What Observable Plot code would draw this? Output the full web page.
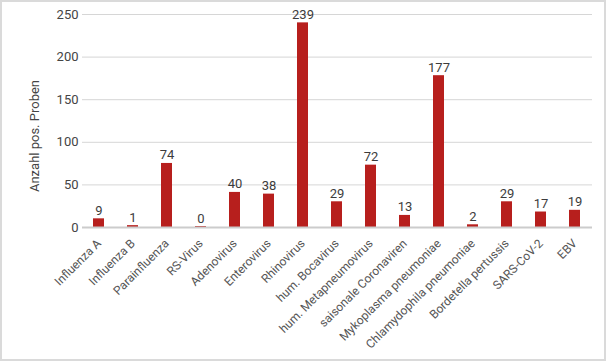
<!DOCTYPE html>
<html><head><meta charset="utf-8">
<script src="https://cdn.jsdelivr.net/npm/d3@7"></script>
<script src="https://cdn.jsdelivr.net/npm/@observablehq/plot@0.6"></script>
<style>
body{margin:0;background:#fff;font-family:Roboto,Arial,sans-serif;}
#wrap{position:relative;width:606px;height:361px;}
#border{position:absolute;left:0;top:0;width:606px;height:361px;box-sizing:border-box;border:2px solid #dadada;pointer-events:none;}
#ytitle{position:absolute;left:34px;top:136px;transform:translate(-50%,-50%) rotate(-90deg);white-space:nowrap;font-size:13px;color:#444;font-family:Roboto,Arial,sans-serif;line-height:1;}
</style></head>
<body><div id="wrap"><div id="border"></div><div id="ytitle"></div></div>
<script>
const categories = ["Influenza A","Influenza B","Parainfluenza","RS-Virus","Adenovirus","Enterovirus","Rhinovirus","hum. Bocavirus","hum. Metapneumovirus","saisonale Coronaviren","Mykoplasma pneumoniae","Chlamydophila pneumoniae","Bordetella pertussis","SARS-CoV-2","EBV"];
const values = [9,1,74,0,40,38,239,29,72,13,177,2,29,17,19];
const yTicks = [0,50,100,150,200,250];
const yTitle = "Anzahl pos. Proben";

const data = categories.map((c,i)=>({cat:c, v:values[i]}));
document.getElementById("ytitle").textContent = yTitle;

const chart = Plot.plot({
  width: 606, height: 361,
  marginLeft: 82, marginRight: 14, marginTop: 14, marginBottom: 134,
  style: {fontFamily: "Roboto, Arial, sans-serif", background: "transparent"},
  x: {domain: categories, paddingInner: 0.676, paddingOuter: 0.338, label: null},
  y: {domain: [0,250], label: null},
  marks: [
    Plot.gridY(yTicks, {stroke: "#d6d6d6", strokeOpacity: 1, strokeWidth: 1}),
    Plot.axisY(yTicks, {tickSize: 0, tickPadding: 4, fontSize: 13, fill: "#444", label: null}),
    Plot.axisX({tickRotate: -45, tickSize: 0, tickPadding: 14, fontSize: 12, fill: "#555", label: null}),
    Plot.barY(data, {x: "cat", y: "v", fill: "#b71f1d", insetTop: -1}),
    Plot.ruleY([0], {stroke: "#cccccc", strokeWidth: 2}),
    Plot.text(data, {x: "cat", y: "v", text: d => String(d.v), lineAnchor: "bottom", dy: -5, fontSize: 13, fill: "#3c3c3c"})
  ]
});
document.getElementById("wrap").prepend(chart);
</script>
</body></html>
